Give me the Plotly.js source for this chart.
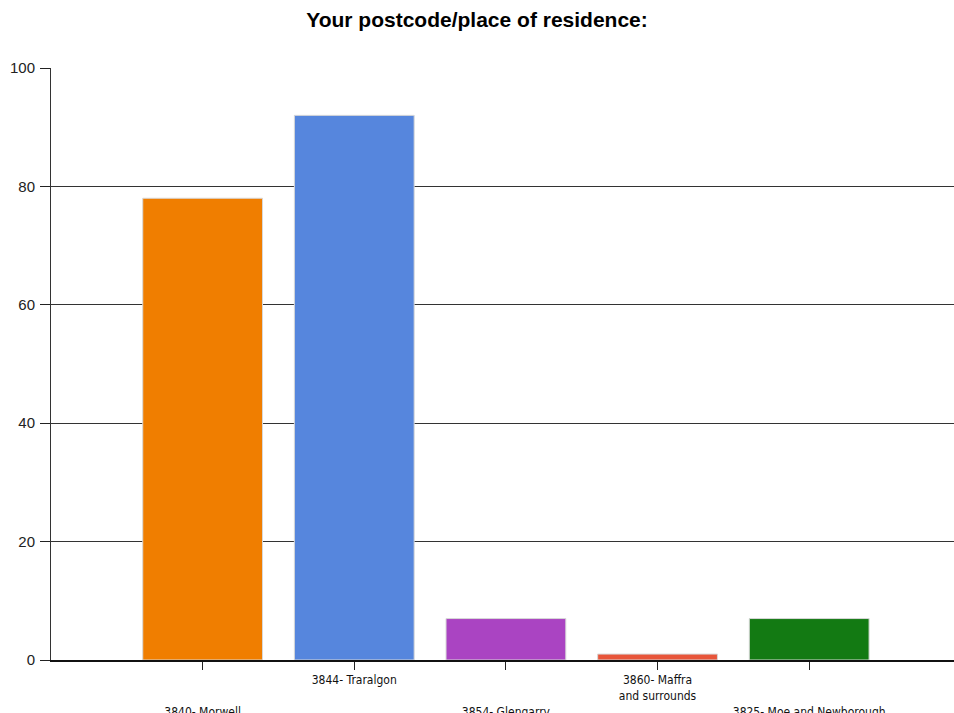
<!DOCTYPE html>
<html>
<head>
<meta charset="utf-8">
<script src="https://cdn.plot.ly/plotly-3.0.1.min.js"></script>
<style>html,body{margin:0;padding:0;background:#fff;overflow:hidden;}</style>
</head>
<body>
<div id="chart" style="width:954px;height:713px;"></div>
<script>
const categories = ["3840- Morwell", "3844- Traralgon", "3854- Glengarry", "3860- Maffra and surrounds", "3825- Moe and Newborough"];
const tickLabels = ["<br><br>3840- Morwell", "3844- Traralgon", "<br><br>3854- Glengarry", "3860- Maffra<br>and surrounds", "<br><br>3825- Moe and Newborough"];
const values = [78, 92, 7, 1, 7];
const barColors = ["#F07E00", "#5686DD", "#AA44C2", "#E8553A", "#137A13"];

const trace = {
  type: "bar",
  x: categories,
  y: values,
  width: 0.79,
  marker: { color: barColors, line: { color: "#d8d8d8", width: 1 } },
  hoverinfo: "x+y"
};

const layout = {
  width: 954,
  height: 713,
  margin: { l: 51, r: 0, t: 68, b: 53 },
  paper_bgcolor: "#fff",
  plot_bgcolor: "#fff",
  showlegend: false,
  title: {
    text: "<b>Your postcode/place of residence:</b>",
    font: { family: "Liberation Sans, Arial, sans-serif", size: 21, color: "#000" },
    x: 0.5, xanchor: "center", y: 0.972, yanchor: "middle"
  },
  xaxis: {
    type: "category",
    range: [-1, 4.955],
    tickmode: "array",
    tickvals: categories,
    ticktext: tickLabels,
    ticks: "outside", ticklen: 8, tickcolor: "#222", tickwidth: 1,
    showline: true, linecolor: "#111", linewidth: 2,
    showgrid: false,
    tickfont: { family: "Liberation Sans Narrow, DejaVu Sans Condensed, Arial, sans-serif", size: 12, color: "#111" },
    fixedrange: true
  },
  yaxis: {
    range: [0, 100],
    dtick: 20,
    ticks: "outside", ticklen: 10, tickcolor: "#222", tickwidth: 1,
    showline: true, linecolor: "#333", linewidth: 1,
    showgrid: true, gridcolor: "#333", gridwidth: 1,
    zeroline: false,
    tickfont: { family: "Liberation Sans, Arial, sans-serif", size: 15, color: "#222" },
    ticklabelstandoff: 2,
    fixedrange: true
  }
};

Plotly.newPlot("chart", [trace], layout, { displayModeBar: false, staticPlot: true });
</script>
</body>
</html>
